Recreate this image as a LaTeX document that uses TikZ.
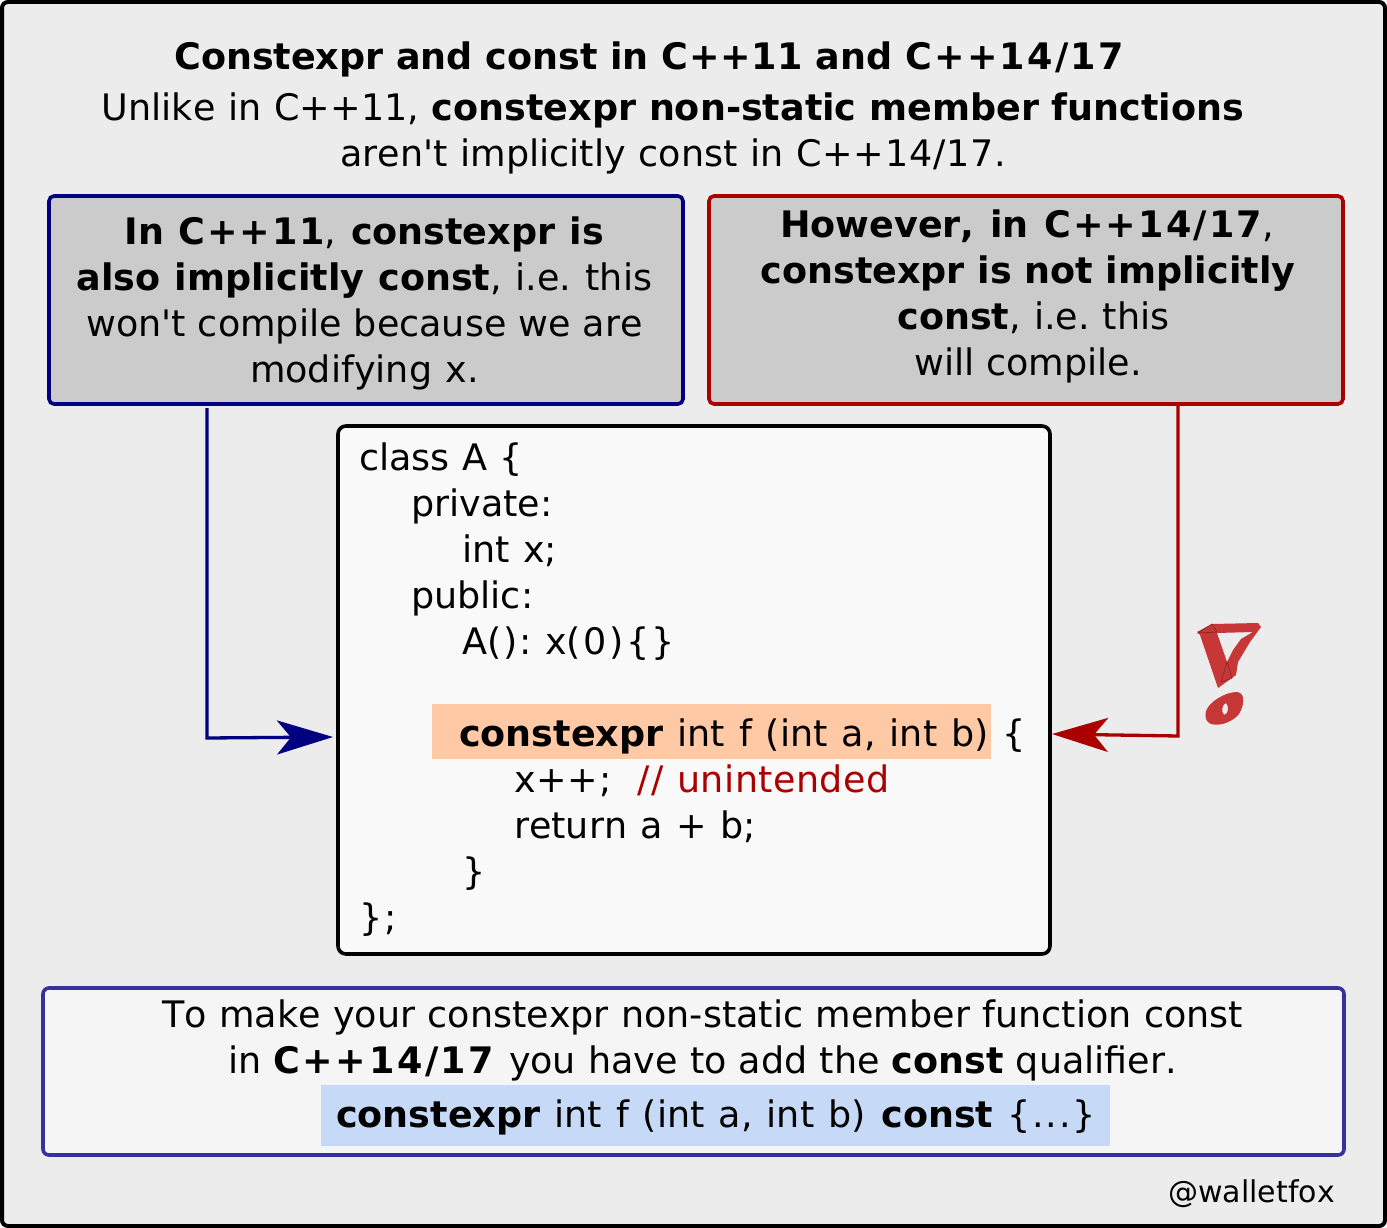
\documentclass[tikz,border=0pt]{standalone}
\usepackage{fontspec}
\setmainfont[Kerning=Off]{DejaVu Sans}
\usetikzlibrary{arrows.meta}
\definecolor{pagebg}{HTML}{ECECEC}
\definecolor{greybox}{HTML}{CBCBCB}
\definecolor{navy}{HTML}{000080}
\definecolor{darkred}{HTML}{AA0000}
\definecolor{codebg}{HTML}{F9F9F9}
\definecolor{notebg}{HTML}{F5F5F5}
\definecolor{noteedge}{HTML}{333399}
\definecolor{peach}{HTML}{FFC9A6}
\definecolor{lightblue}{HTML}{C6DAF8}
\definecolor{markred}{HTML}{C83737}
\newcommand{\ts}{\fontsize{36.5}{46}\selectfont\frenchspacing}
\newcommand{\apos}{\textquotesingle}
\newcommand{\wsk}[1]{\spaceskip=#1pt\relax}
\newcommand{\wdx}[1]{{\addfontfeature{LetterSpace=7}#1}}
\newcommand{\wdn}[1]{{\addfontfeature{LetterSpace=5}#1}}
\newcommand{\wdm}[1]{{\addfontfeature{LetterSpace=6}#1}}
\newcommand{\wds}[1]{{\addfontfeature{LetterSpace=2}#1}}
\tikzset{
  x=1pt,y=-1pt,
  panel/.style={draw,line width=3.6pt,rounded corners=5pt,fill=greybox,anchor=north west,inner sep=0pt,outer sep=0pt},
  copytext/.style={font=\ts,align=center,inner sep=0pt,anchor=center},
  codeline/.style={font=\ts,inner sep=0pt,anchor=base west},
  link/.style={line width=3.3pt,line join=miter},
  tipbig/.style={-{Stealth[length=56pt,width=34pt,inset=14pt]}},
}
\begin{document}
\begin{tikzpicture}
\useasboundingbox (0,0) rectangle (1387,1228);
\node[draw=black,line width=4pt,rounded corners=6pt,fill=pagebg,minimum width=1383pt,minimum height=1224pt,anchor=north west,inner sep=0pt,outer sep=0pt] (page) at (2,2) {};
\node[font=\ts,inner sep=0pt,anchor=base] (title) at (650,70) {\wsk{12.7}\textbf{Constexpr and const in \wds{C++11} and \wdm{C++14/17}}};
\node[copytext,anchor=base] (intro) at (673,167) {\wsk{12.8}Unlike in C++11, \textbf{constexpr non-static member functions}\\\wsk{12.8}aren\apos t implicitly const in \wds{C++14/17.}};
\node[panel,draw=navy,minimum width=634pt,minimum height=208pt] (left) at (49,196) {};
\node[copytext,anchor=base] (lefttext) at (364.5,382) {\wsk{14.5}\textbf{In \wdn{C++11}}, \textbf{constexpr is}\\\wsk{14}\textbf{also implicitly const}, i.e. this\\\wsk{12}won\apos t compile because we are\\\wsk{13.6}modifying x.};
\node[panel,draw=darkred,minimum width=634pt,minimum height=208pt] (right) at (709,196) {};
\node[copytext,anchor=base] (righttext) at (1027,375.5) {\wsk{15.5}\textbf{However, in \wdm{C++14/17}},\\\hspace*{2pt}\textbf{\wsk{12.7}constexpr is not implicitly}\\\hspace*{13pt}\wsk{13}\textbf{const}, i.e. this\\\hspace*{2pt}will compile.};
\node[draw=black,line width=3.6pt,rounded corners=8pt,fill=codebg,minimum width=712pt,minimum height=528pt,anchor=north west,inner sep=0pt,outer sep=0pt] (code) at (338,426) {};
\node[fill=peach,minimum width=559pt,minimum height=55pt,anchor=north west,inner sep=0pt,outer sep=0pt] (hl) at (432,704) {};
\node[codeline] (c1) at (359,470) {\wsk{12.5}class A \{};
\node[codeline] (c2) at (411,516) {private:};
\node[codeline] (c3) at (462,562) {\wsk{13.5}int x\wdn{;}};
\node[codeline] (c4) at (411,608) {public:};
\node[codeline] (c5) at (462,654) {\wsk{13.5}A\wdn{():} x\wdx{(0)\{\}}};
\node[codeline] (c6) at (459,746) {\wsk{14}\textbf{constexpr} int f \wdx{(}int a\wdx{,} int b\wdx{)}\hspace{14pt}\{};
\node[codeline] (c7) at (514,792) {\wds{x++;}\hspace{26pt}\textcolor{darkred}{\wsk{13.5}\wdn{//} {\addfontfeature{LetterSpace=1.2}unintended}}};
\node[codeline] (c8) at (514,838) {\wsk{13.5}return a + b;};
\node[codeline] (c9) at (462,884) {\}};
\node[codeline] (c10) at (359,930) {\wdn{\};}};
\node[draw=noteedge,line width=3.6pt,rounded corners=6pt,fill=notebg,minimum width=1301pt,minimum height=167pt,anchor=north west,inner sep=0pt,outer sep=0pt] (note) at (43,988) {};
\node[copytext,anchor=base] (notetext) at (702.5,1073.5) {\wsk{12.5}To make your constexpr non-static member function const\\\wsk{12.2}in \textbf{\wdx{C++14/17}} you have to add the \textbf{const} qualifier.};
\node[fill=lightblue,minimum width=789pt,minimum height=61pt,anchor=north west,inner sep=0pt,outer sep=0pt] (sig) at (321,1085) {};
\node[codeline] (sigtext) at (336,1127) {\wsk{14}\textbf{constexpr} int f \wdn{(}int a\wdn{,} int b\wdn{)} \textbf{const} \wdn{\{...\}}};
\node[font=\fontsize{30}{36}\selectfont,inner sep=0pt,anchor=base east] (credit) at (1335,1202) {@walletfox};
\coordinate (blueout) at (207,408);
\coordinate (bluein) at (333,737);
\coordinate (redout) at (1178,404);
\coordinate (redin) at (1052,734);
\draw[link,draw=navy,tipbig] (blueout) -- (207,738) -- (bluein);
\draw[link,draw=darkred,tipbig] (redout) -- (1178,736) -- (redin);
\fill[markred,even odd rule] (1197,632) -- (1212,624) -- (1258,623) -- (1261,627) -- (1250,642) -- (1238,662) -- (1236,675) -- (1232,678) -- (1218,688) -- (1200,635) -- cycle
 (1217,633) -- (1253,632) -- (1241,639) -- (1233,650) -- (1227,662) -- cycle;
\draw[markred!70!black,line width=.7pt] (1198,633) -- (1212,624) -- (1217,632) -- cycle (1227,662) -- (1221,682) -- (1232,678) -- cycle;
\fill[markred,even odd rule] (1206,711) .. controls (1209,702) and (1225,692) .. (1237,692) .. controls (1246,693) and (1244,706) .. (1239,714) .. controls (1231,724) and (1215,727) .. (1209,723) .. controls (1205,720) and (1205,715) .. (1206,711) -- cycle
 (1226,703) .. controls (1222,704) and (1221,712) .. (1224,715) .. controls (1229,714) and (1229,706) .. (1226,703) -- cycle;
\end{tikzpicture}
\end{document}
